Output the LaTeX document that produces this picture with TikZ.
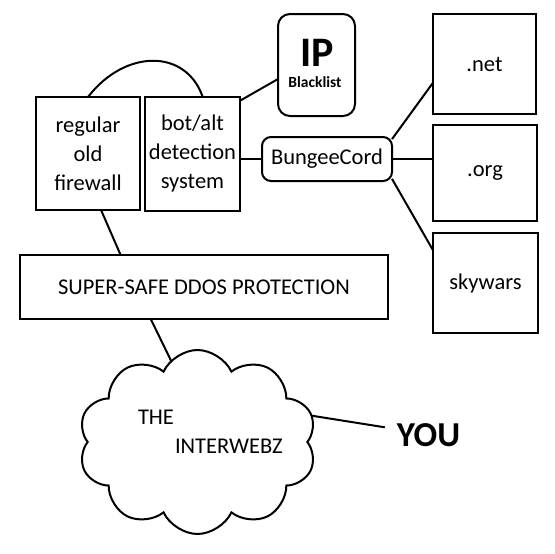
\documentclass[tikz,border=0pt]{standalone}
\usepackage{fontspec}
\setmainfont{Carlito}
\usetikzlibrary{shapes.symbols}
\begin{document}
\begin{tikzpicture}[x=1pt, y=-1pt, line width=2pt]
\tikzset{ inner sep=0pt, outer sep=0pt,
  box/.style={draw, align=center, font=\fontsize{22.5}{29}\selectfont},
  rbox/.style={box, rounded corners=9pt},
  txt/.style={font=\fontsize{22.5}{29}\selectfont},
}
\useasboundingbox (0,0) rectangle (555,554);

% left column
\node [box, minimum width=104pt, minimum height=113pt] (fw)  at (88,153.5)  {regular\\old\\firewall};
\node [box, minimum width=95pt,  minimum height=114pt] (bot) at (192.5,153.5) {bot/alt\\detection\\system};
\node [box, minimum width=368pt, minimum height=64pt]  (ddos) at (204,287) {SUPER-SAFE DDOS PROTECTION};

% blacklist
\node [rbox, rounded corners=12pt, minimum width=77pt, minimum height=102pt] (ip) at (316.5,65) {};
\node [font=\fontsize{42}{44}\selectfont\bfseries] (iptxt) at (317,53) {IP};
\node [font=\fontsize{15.5}{17}\selectfont\bfseries] (bl) at (315,82) {Blacklist};

% servers
\node [rbox, minimum width=130pt, minimum height=44pt] (bungee) at (327,159) {BungeeCord};
\node [box, minimum width=103pt, minimum height=100pt] (net) at (484.5,64)  {.net};
\node [box, minimum width=104pt, minimum height=96pt]  (org) at (485,173)   {.org};
\node [box, minimum width=105pt, minimum height=100pt] (sky) at (485.5,283) {skywars};

% the outside
\node [cloud, draw, cloud puffs=10, cloud puff arc=130, aspect=1.3,
       minimum width=238pt, minimum height=184pt] (web) at (197.5,442) {};
\node [txt, anchor=west] (the) at (138,417) {THE};
\node [txt, anchor=west] (iw)  at (175,446) {INTERWEBZ};
\node [font=\fontsize{35}{40}\selectfont\bfseries, inner sep=12pt] (you) at (428.5,435) {YOU};

\draw (fw.north) .. controls +(37,-48) and +(-17,-48) .. (bot.80);
\draw (bot.48) -- (ip.200);
\draw (bot.east |- bungee.west) -- (bungee.west);
\draw (bungee.17)  -- (net.200);
\draw (bungee.east) -- (bungee.east -| org.west);
\draw (bungee.-17) -- (sky.148);
\draw (fw.-77) -- (ddos.159);
\draw (ddos.211) -- (web.108);
\draw (web.13) -- (you.170);

\end{tikzpicture}
\end{document}
